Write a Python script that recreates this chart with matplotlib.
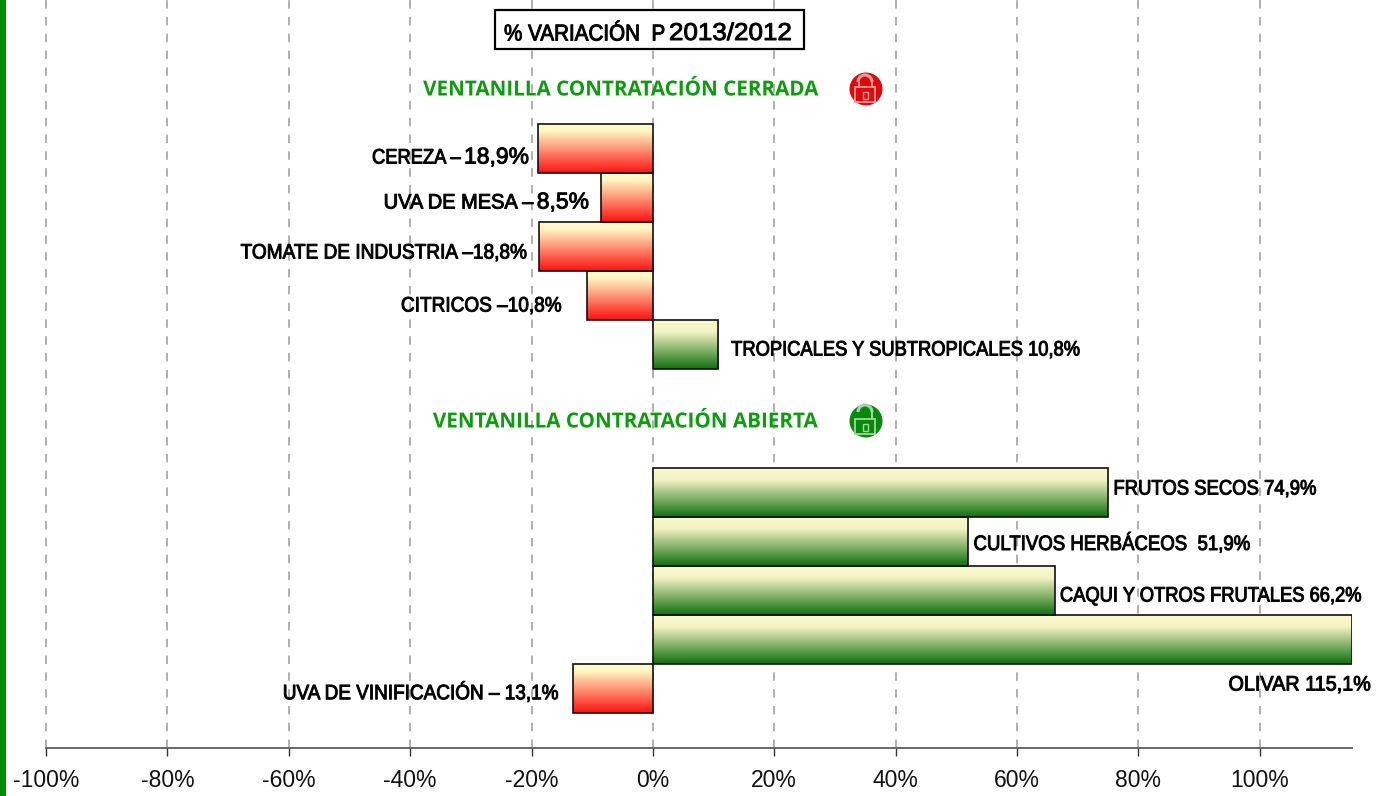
"""
% variación P 2013/2012: barras horizontales con degradado por ventanilla
"""
import numpy as np
import matplotlib
matplotlib.use("Agg")
import matplotlib.pyplot as plt
from matplotlib.colors import LinearSegmentedColormap
from matplotlib.patches import Circle, Rectangle, Arc
from matplotlib.patheffects import AbstractPathEffect
from matplotlib.transforms import Affine2D

W, H = 1381, 796

# filas de arriba a abajo, None = hueco entre bloques
categories = ["CEREZA", "UVA DE MESA", "TOMATE DE INDUSTRIA", "CITRICOS",
              "TROPICALES Y SUBTROPICALES", None, None,
              "FRUTOS SECOS", "CULTIVOS HERBÁCEOS", "CAQUI Y OTROS FRUTALES",
              "OLIVAR", "UVA DE VINIFICACIÓN"]
values = [-18.9, -8.5, -18.8, -10.8, 10.8, None, None,
          74.9, 51.9, 66.2, 115.1, -13.1]
xticks = [-100, -80, -60, -40, -20, 0, 20, 40, 60, 80, 100]
xticklabels = ["-100%", "-80%", "-60%", "-40%", "-20%", "0%",
               "20%", "40%", "60%", "80%", "100%"]

# texto, x derecha, y centro, tamaño, estrechado horizontal
label_parts = [
    ("CEREZA –", 461, 158, 15, 0.88),
    ("18,9%", 529, 157, 16.5, 1.0),
    ("UVA DE MESA –", 534, 203, 15, 0.96),
    ("8,5%", 589, 202, 16.5, 1.0),
    ("TOMATE DE INDUSTRIA –18,8%", 528, 253, 15, 0.915),
    ("CITRICOS –10,8%", 562, 306, 15, 0.913),
    ("TROPICALES Y SUBTROPICALES 10,8%", 1081, 350, 15, 0.88),
    ("FRUTOS SECOS 74,9%", 1317, 489, 15, 0.887),
    ("CULTIVOS HERBÁCEOS  51,9%", 1251, 544, 15, 0.893),
    ("CAQUI Y OTROS FRUTALES 66,2%", 1362, 596, 15, 0.88),
    ("OLIVAR 115,1%", 1371, 685, 15, 0.95),
    ("UVA DE VINIFICACIÓN – 13,1%", 559, 693, 15, 0.91),
]


class Squeeze(AbstractPathEffect):
    """estrecha el texto en horizontal, sustituye a la Arial Narrow"""

    def __init__(self, sx, x0, stroke=0.7):
        super().__init__()
        self.sx, self.x0, self.stroke = sx, x0, stroke

    def draw_path(self, renderer, gc, tpath, affine, rgbFace=None):
        aff = affine + Affine2D().translate(-self.x0, 0).scale(self.sx, 1).translate(self.x0, 0)
        gc0 = renderer.new_gc()
        gc0.copy_properties(gc)
        if self.stroke:
            gc0.set_linewidth(self.stroke)
            gc0.set_foreground(rgbFace)
        renderer.draw_path(gc0, tpath, aff, rgbFace)
        gc0.restore()


fig = plt.figure(figsize=(W / 100, H / 100), dpi=100)
px = Affine2D().scale(1, -1).translate(0, H)  # pixel de la imagen, origen arriba


def squeezed(text, x, y, size, sx, family="Liberation Sans", color="black",
             weight="normal", stroke=0.7, zorder=6):
    t = fig.text(x, y, text, transform=px, ha="right", va="center", fontsize=size,
                 family=family, color=color, fontweight=weight, zorder=zorder)
    t.set_path_effects([Squeeze(sx, x, stroke)])
    return t


left, right, axis_y = 46.0, 1351.5, 748.0
row_h, first_row = 49.1, 148.5
ax = fig.add_axes([left / W, (H - axis_y) / H, (right - left) / W, axis_y / H])

cmap_neg = LinearSegmentedColormap.from_list(
    "neg", [(0, "#FFFBCC"), (0.15, "#FFF8C4"), (1, "#FF1010")])
cmap_pos = LinearSegmentedColormap.from_list(
    "pos", [(0, "#FBFACC"), (0.25, "#F3F3C4"), (1, "#0E700E")])
grad = np.linspace(0, 1, 256).reshape(-1, 1)

ax.xaxis.grid(True, color="#9A9A9A", linestyle=(0, (5.5, 5.5)), linewidth=1.1)
ax.set_axisbelow(True)

ypos = [i for i, v in enumerate(values) if v is not None]
vals = [v for v in values if v is not None]
bars = ax.barh(ypos, vals, height=1.0, facecolor="none", edgecolor="#111111",
               linewidth=1.2, zorder=4)
for bar, v in zip(bars, vals):
    x0, x1 = sorted((bar.get_x(), bar.get_x() + bar.get_width()))
    y0, y1 = bar.get_y(), bar.get_y() + bar.get_height()
    ax.imshow(grad, cmap=cmap_pos if v > 0 else cmap_neg, aspect="auto",
              extent=(x0, x1, y1, y0), zorder=3, interpolation="bilinear")
ax.set_xlim(-100, 115.1)
ax.set_ylim((axis_y - first_row) / row_h, -first_row / row_h)

for s in ("top", "left", "right"):
    ax.spines[s].set_visible(False)
ax.spines["bottom"].set_color("#666666")
ax.spines["bottom"].set_linewidth(1.4)
ax.set_yticks([])
ax.set_xticks(xticks, xticklabels, fontfamily="Liberation Sans", fontsize=16.5)
ax.tick_params(axis="x", length=6, width=1, color="#333333", pad=9, labelcolor="#111111")
for gl in ax.get_xgridlines():
    gl.set_clip_on(False)

# banda verde a la izquierda
fig.add_artist(Rectangle((0, 0), 6, H, transform=px, facecolor="#058C05", edgecolor="none"))

for text, x, y, size, sx in label_parts:
    squeezed(text, x, y, size, sx)

# título en recuadro
fig.add_artist(Rectangle((495, 10), 309, 39, transform=px, facecolor="white",
                         edgecolor="black", linewidth=1.6, zorder=5))
squeezed("% VARIACIÓN  P", 665, 34, 16.5, 0.9)
squeezed("2013/2012", 792, 34, 17.5, 1.07)

green = "#0A9E0A"
squeezed("VENTANILLA CONTRATACIÓN CERRADA", 819, 90, 15, 0.99, family="Open Sans",
         color=green, weight="bold", stroke=0)
squeezed("VENTANILLA CONTRATACIÓN ABIERTA", 818, 422, 15, 0.99, family="Open Sans",
         color=green, weight="bold", stroke=0)


def lock(cx, cy, color, line, is_open):
    """candado claro sobre un disco de color"""
    fig.add_artist(Circle((cx, cy), 16.5, transform=px, facecolor=color,
                          edgecolor="none", zorder=6))
    fig.add_artist(Rectangle((cx - 11, cy - 2), 20, 15, transform=px, facecolor="none",
                             edgecolor=line, linewidth=1.3, zorder=7))
    top = cy - 9 if is_open else cy - 7
    fig.add_artist(Arc((cx - 1, top), 14, 14, theta1=180, theta2=360, transform=px,
                       edgecolor=line, linewidth=2.2, zorder=7))
    for dx in (-8, 6):
        if is_open and dx < 0:
            continue
        fig.add_artist(Rectangle((cx - 1 + dx + (0 if dx > 0 else 1), top), 2, cy - 2 - top,
                                 transform=px, facecolor=line, edgecolor="none", zorder=7))
    fig.add_artist(Rectangle((cx - 3, cy + 3), 5, 7, transform=px, facecolor="none",
                             edgecolor=line, linewidth=1, zorder=7))


lock(866, 89, "#E00A0A", "#F59A9A", False)
lock(866, 421, "#078A07", "#A4D4A4", True)

fig.savefig("out.png", dpi=100)
plt.close(fig)
